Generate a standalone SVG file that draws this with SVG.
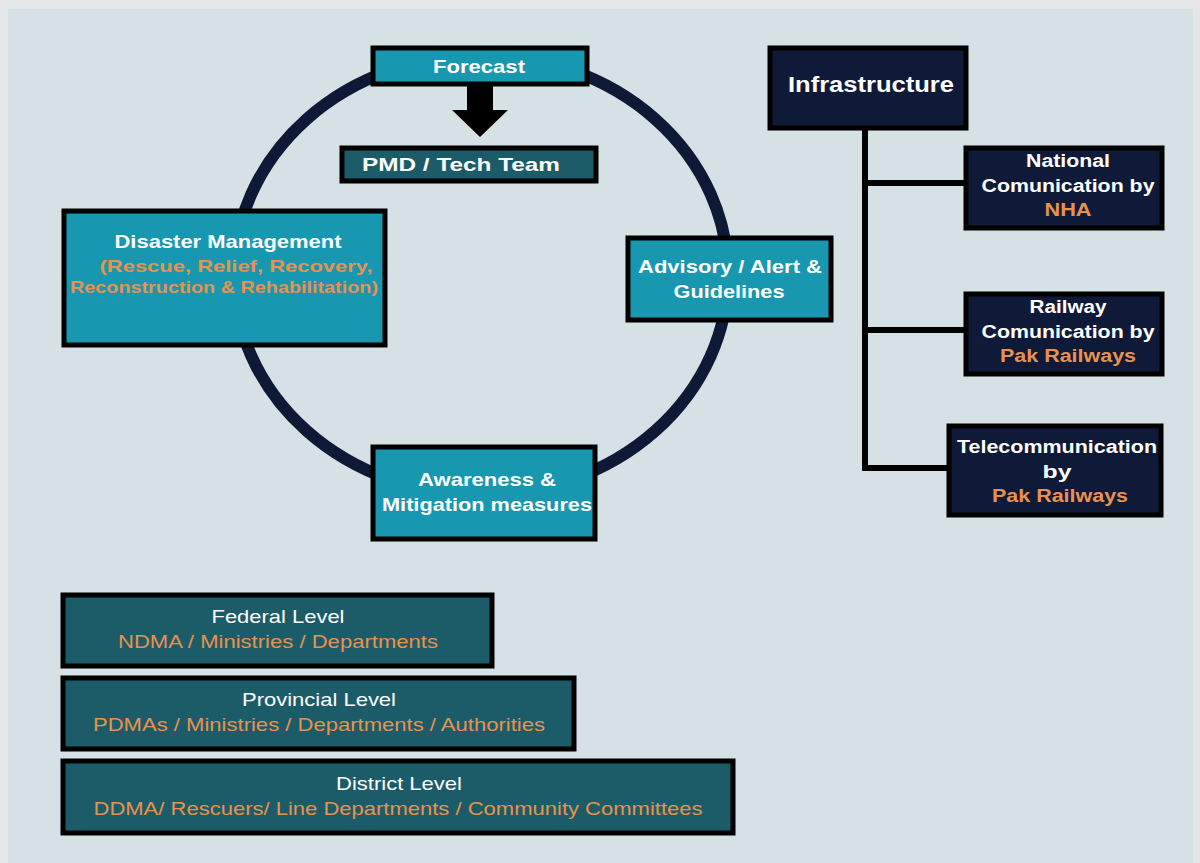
<svg xmlns="http://www.w3.org/2000/svg" width="1200" height="863" viewBox="0 0 1200 863">
<style>
.bg{fill:#d5e1e5}
.teal{fill:#1797b0;stroke:#000;stroke-width:5}
.dteal{fill:#1b5c68;stroke:#000;stroke-width:5}
.navy{fill:#0e1a38;stroke:#000;stroke-width:5}
text{font-family:"Liberation Sans",Arial,sans-serif;text-anchor:middle}
.b{font-weight:bold;fill:#fff;font-size:19px}
.s{font-size:18px}
.o{fill:#e8924f}
.ob{font-weight:bold;fill:#e8924f;font-size:17px}
.r{fill:#fff;font-size:19px}
.ro{fill:#e8924f;font-size:19px}
.conn{stroke:#000;stroke-width:6;fill:none}
</style>
<rect x="0" y="0" width="1200" height="863" fill="#e4e6e8"/>
<rect class="bg" x="8" y="9" width="1185" height="854"/>
<g id="connectors">
  <ellipse cx="481" cy="275" rx="247" ry="220" fill="none" stroke="#0e1a35" stroke-width="12"/>
  <polygon points="467,86 493,86 493,110 508,110 480,137 452,110 467,110" fill="#000"/>
  <path class="conn" d="M865,130 V471 M865,183 H966 M865,330 H966 M865,468 H949"/>
</g>
<g id="forecast">
  <rect class="teal" x="373" y="48" width="214" height="36"/>
  <text class="b" x="479" y="73" textLength="92" lengthAdjust="spacingAndGlyphs">Forecast</text>
</g>
<g id="pmd">
  <rect class="dteal" x="342" y="148" width="254" height="33"/>
  <text class="b" x="461" y="171" textLength="198" lengthAdjust="spacingAndGlyphs">PMD / Tech Team</text>
</g>
<g id="disaster">
  <rect class="teal" x="64" y="211" width="321" height="134"/>
  <text class="b" x="228" y="248" textLength="227" lengthAdjust="spacingAndGlyphs">Disaster Management</text>
  <text class="ob" x="236" y="272" textLength="273" lengthAdjust="spacingAndGlyphs">(Rescue, Relief, Recovery,</text>
  <text class="ob" x="224" y="293" textLength="308" lengthAdjust="spacingAndGlyphs">Reconstruction &amp; Rehabilitation)</text>
</g>
<g id="advisory">
  <rect class="teal" x="628" y="238" width="203" height="82"/>
  <text class="b" x="730" y="273" textLength="184" lengthAdjust="spacingAndGlyphs">Advisory / Alert &amp;</text>
  <text class="b" x="729" y="298" textLength="111" lengthAdjust="spacingAndGlyphs">Guidelines</text>
</g>
<g id="awareness">
  <rect class="teal" x="373" y="447" width="222" height="92"/>
  <text class="b" x="487" y="486" textLength="138" lengthAdjust="spacingAndGlyphs">Awareness &amp;</text>
  <text class="b" x="487" y="511" textLength="210" lengthAdjust="spacingAndGlyphs">Mitigation measures</text>
</g>
<g id="infrastructure">
  <rect class="navy" x="770" y="48" width="196" height="80"/>
  <text class="b" x="871" y="92" style="font-size:22px" textLength="166" lengthAdjust="spacingAndGlyphs">Infrastructure</text>
</g>
<g id="nha">
  <rect class="navy" x="966" y="148" width="196" height="80"/>
  <text class="b s" x="1068" y="167" textLength="84" lengthAdjust="spacingAndGlyphs">National</text>
  <text class="b s" x="1068" y="192" textLength="173" lengthAdjust="spacingAndGlyphs">Comunication by</text>
  <text class="b s o" x="1068" y="216" textLength="47" lengthAdjust="spacingAndGlyphs">NHA</text>
</g>
<g id="railway">
  <rect class="navy" x="966" y="294" width="196" height="80"/>
  <text class="b s" x="1068" y="313" textLength="77" lengthAdjust="spacingAndGlyphs">Railway</text>
  <text class="b s" x="1068" y="338" textLength="173" lengthAdjust="spacingAndGlyphs">Comunication by</text>
  <text class="b s o" x="1068" y="362" textLength="136" lengthAdjust="spacingAndGlyphs">Pak Railways</text>
</g>
<g id="telecom">
  <rect class="navy" x="949" y="426" width="212" height="89"/>
  <text class="b s" x="1057" y="453" textLength="200" lengthAdjust="spacingAndGlyphs">Telecommunication</text>
  <text class="b s" x="1057" y="478" textLength="29" lengthAdjust="spacingAndGlyphs">by</text>
  <text class="b s o" x="1060" y="502" textLength="136" lengthAdjust="spacingAndGlyphs">Pak Railways</text>
</g>
<g id="federal">
  <rect class="dteal" x="63" y="595" width="429" height="71"/>
  <text class="r" x="278" y="623" textLength="133" lengthAdjust="spacingAndGlyphs">Federal Level</text>
  <text class="ro" x="278" y="648" textLength="320" lengthAdjust="spacingAndGlyphs">NDMA / Ministries / Departments</text>
</g>
<g id="provincial">
  <rect class="dteal" x="63" y="678" width="511" height="71"/>
  <text class="r" x="319" y="706" textLength="154" lengthAdjust="spacingAndGlyphs">Provincial Level</text>
  <text class="ro" x="319" y="731" textLength="452" lengthAdjust="spacingAndGlyphs">PDMAs / Ministries / Departments / Authorities</text>
</g>
<g id="district">
  <rect class="dteal" x="63" y="761" width="670" height="72"/>
  <text class="r" x="399" y="790" textLength="126" lengthAdjust="spacingAndGlyphs">District Level</text>
  <text class="ro" x="398" y="815" textLength="609" lengthAdjust="spacingAndGlyphs">DDMA/ Rescuers/ Line Departments / Community Committees</text>
</g>
</svg>
